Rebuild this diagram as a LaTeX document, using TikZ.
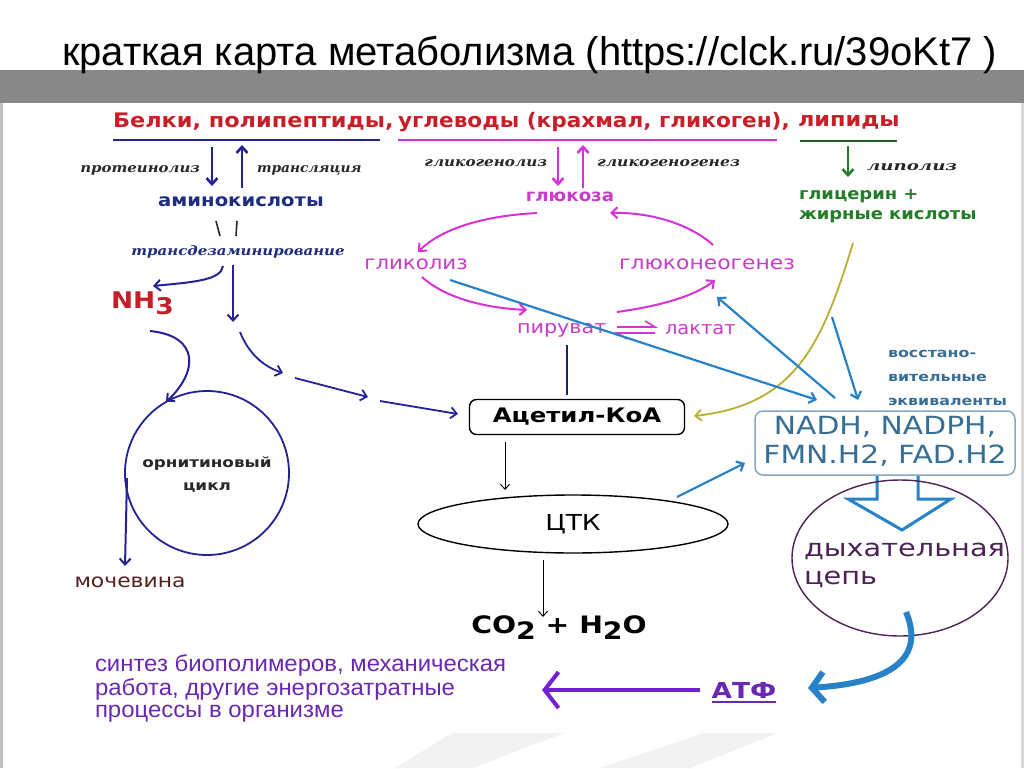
\documentclass[tikz,border=0pt]{standalone}
\usepackage{fontspec}
\usepackage{graphicx}
\setmainfont{DejaVu Sans}
\newfontfamily\titlefont{Liberation Sans}
\newfontfamily\narrowfont{Liberation Sans}
\newfontfamily\itfont{DejaVu Serif}
\usetikzlibrary{arrows.meta,calc,shapes.geometric}
\newcommand\hs[2]{\scalebox{#1}[1]{#2}}
\newcommand\hsl[2]{\scalebox{#1}[1]{\begin{tabular}{@{}l@{}}#2\end{tabular}}}
\newcommand\hsc[2]{\scalebox{#1}[1]{\begin{tabular}{@{}c@{}}#2\end{tabular}}}
\newcommand\fsz[2]{\fontsize{#1}{#2}\selectfont}
\definecolor{hred}{RGB}{200,30,40}
\definecolor{navy}{RGB}{35,35,150}
\definecolor{aminoblue}{RGB}{30,45,125}
\definecolor{mag}{RGB}{215,50,215}
\definecolor{magtxt}{RGB}{200,60,200}
\definecolor{grn}{RGB}{35,125,40}
\definecolor{dgrn}{RGB}{30,100,30}
\definecolor{steel}{RGB}{40,130,200}
\definecolor{nadh}{RGB}{55,110,150}
\definecolor{purp}{RGB}{105,40,175}
\definecolor{purparr}{RGB}{115,30,215}
\definecolor{olive}{RGB}{185,175,50}
\definecolor{resp}{RGB}{75,35,85}
\definecolor{dk}{RGB}{40,40,40}
\definecolor{swoosh}{RGB}{242,242,242}
\definecolor{band}{RGB}{136,136,136}
\begin{document}
\begin{tikzpicture}[x=1pt,y=-1pt,
  lbl/.style={inner sep=0pt,outer sep=0pt},
  hdr/.style={lbl,anchor=west,font=\bfseries\fsz{20}{22},text=hred},
  itl/.style={lbl,font=\itfont\bfseries\itshape\fsz{13}{15},text=dk},
  barb/.style={-{Straight Barb[length=6pt,width=11pt]}},
  navyarr/.style={barb,draw=navy,line width=2.6pt},
  magarr/.style={barb,draw=mag,line width=2.6pt},
  thinmag/.style={barb,draw=mag,line width=2pt},
  dasharr/.style={barb,draw=navy,line width=1.8pt},
  steelarr/.style={barb,draw=steel,line width=2.2pt},
  blkarr/.style={-{Straight Barb[length=5pt,width=9pt]},draw=black,line width=1pt}
]
\useasboundingbox (0,0) rectangle (1024,768);
% slide frame
\fill[white] (0,0) rectangle (1024,768);
\fill[band] (0,70) rectangle (1024,103);
\fill[gray!50] (0,103) rectangle (3,768);
\fill[gray!30] (1021,103) rectangle (1024,768);
\fill[swoosh] (395,768) -- (452,733) -- (564,733) -- (472,768) -- cycle;
\fill[swoosh] (600,768) -- (704,733) -- (778,733) -- (690,768) -- cycle;
% title
\node[lbl,anchor=base west,font=\titlefont\fsz{40}{44}] (title) at (62,66) {краткая карта метаболизма (https://clck.ru/39oKt7 )};

% header
\node[hdr] (prot) at (113,122) {\hs{1.12}{Белки, полипептиды,}};
\node[hdr] (carb) at (398,122) {\hs{1.08}{углеводы (крахмал, гликоген),}};
\node[hdr] (lip) at (798,122) {\hs{1.12}{липиды}};
\draw[navy,line width=2.5pt] (113,140) -- (380,140);
\draw[mag,line width=2.5pt] (398,140) -- (777,140);
\draw[dgrn,line width=2.5pt] (800,141) -- (897,141);

% proteins branch
\node[lbl,font=\bfseries\fsz{17.5}{20},text=aminoblue] (amino) at (241,202) {\hs{1.12}{аминокислоты}};
\draw[navyarr] (212,147) -- (212,186);
\draw[navyarr] (242,188) -- (242,145);
\node[itl,anchor=east] (proteo) at (200,170) {\hs{1.15}{протеинолиз}};
\node[itl,anchor=west] (transl) at (257,170) {\hs{1.06}{трансляция}};
\draw[dk,line width=1.6pt] (216,221) -- (220,236);
\draw[dk,line width=1.6pt] (237,221) -- (236,236);
\node[itl,text=aminoblue] (trans) at (238,252) {\hs{1.15}{трансдезаминирование}};
\node[lbl,anchor=west,font=\bfseries\fsz{23}{25},text=hred] (nh3) at (111,303) {\hs{1.15}{NH\raisebox{-6pt}{3}}};
\draw[navy,line width=2pt,barb] (223,266) .. controls (221,280) and (195,282) .. (153,286);
\draw[navy,line width=2pt,barb] (233,265) -- (233,322);
\node[circle,draw=navy,line width=1.8pt,minimum size=164pt,inner sep=0pt] (orn) at (207,473) {};
\node[lbl,font=\bfseries\fsz{14}{23},text=dk] (ornt) at (207,474) {\hsc{1.2}{орнитиновый\\цикл}};
\draw[navy,line width=2pt,barb] (150,331) .. controls (200,336) and (198,372) .. (166,402);
\draw[navy,line width=2pt,barb] (127,478) -- (125,566);
\node[lbl,font=\fsz{19}{21},text=dk!80!red] (urea) at (130,582) {\hs{1.15}{мочевина}};
\draw[dasharr] (240,332) .. controls (248,352) and (262,366) .. (283,373);
\draw[dasharr] (295,378) -- (368,397);
\draw[dasharr] (380,401) -- (458,414);

% carbohydrates branch
\draw[magarr] (558,147) -- (558,186);
\draw[magarr] (583,188) -- (583,145);
\node[itl,anchor=east] (glgl) at (547,163) {\hs{1.17}{гликогенолиз}};
\node[itl,anchor=west] (glgn) at (597,163) {\hs{1.2}{гликогеногенез}};
\node[lbl,font=\bfseries\fsz{17}{19},text=magtxt] (glu) at (570,197) {\hs{1.07}{глюкоза}};
\node[lbl,font=\fsz{19}{21},text=magtxt] (glyc) at (416,264) {\hs{1.12}{гликолиз}};
\node[lbl,font=\fsz{19}{21},text=magtxt] (gng) at (707,264) {\hs{1.15}{глюконеогенез}};
\draw[thinmag] (537,213) .. controls (480,216) and (440,230) .. (418,252);
\draw[thinmag] (713,245) .. controls (690,224) and (650,212) .. (610,213);
\draw[thinmag] (422,277) .. controls (445,298) and (485,308) .. (527,310);
\draw[thinmag] (617,312) .. controls (660,306) and (695,296) .. (715,280);
\node[lbl,anchor=west,font=\fsz{18}{20},text=magtxt] (pyr) at (517,330) {\hs{1.15}{пируват}};
\node[lbl,anchor=west,font=\fsz{18}{20},text=magtxt] (lac) at (665,330) {\hs{1.08}{лактат}};
\draw[mag,line width=1.6pt] (617,327) -- (655,327) -- (645,321);
\draw[mag,line width=1.6pt] (655,333) -- (617,333) -- (627,339);
\draw[aminoblue!80!black,line width=1.6pt] (567,345) -- (567,395);

% central
\node[draw=black,line width=1.4pt,rounded corners=7pt,minimum width=215pt,minimum height=35pt,inner sep=0pt,font=\bfseries\fsz{20}{22}] (acoa) at (577,417) {\hs{1.22}{Ацетил-КоА}};
\node[ellipse,draw=black,line width=1.4pt,minimum width=310pt,minimum height=58pt,inner sep=0pt,font=\fsz{22}{24}] (ctk) at (573,524) {\hs{1.2}{ЦТК}};
\draw[blkarr] (505,442) -- (505,490);
\draw[blkarr] (543,560) -- (543,617);
\node[lbl,font=\bfseries\fsz{24}{26}] (co2) at (559,628) {\hs{1.18}{CO\raisebox{-6pt}{2} + H\raisebox{-6pt}{2}O}};

% lipids
\draw[grn,line width=2.6pt,barb] (848,146) -- (848,177);
\node[itl,anchor=west] (lipol) at (867,167) {\hs{1.4}{липолиз}};
\node[lbl,anchor=north west,font=\bfseries\fsz{16}{20},text=grn] (glyfa) at (799,185) {\hsl{1.12}{глицерин +\\жирные кислоты}};
\draw[olive,line width=1.8pt,barb] (853,243) .. controls (822,345) and (795,405) .. (694,416);

% reducing equivalents
\node[lbl,anchor=west,font=\bfseries\fsz{13}{24},text=nadh] (vosst) at (888,377) {\hsl{1.22}{восстано-\\вительные\\эквиваленты}};
\node[draw=nadh!60,line width=1.5pt,rounded corners=8pt,minimum width=260pt,minimum height=64pt,inner sep=0pt,font=\fsz{25}{29},text=nadh] (nadh) at (885,443) {\hsc{1.19}{NADH, NADPH,\\FMN.H2, FAD.H2}};
\draw[steelarr] (450,280) -- (817,400);
\draw[steelarr] (835,398) -- (717,297);
\draw[steelarr] (832,317) -- (858,400);
\draw[steelarr] (677,497) -- (745,463);
\draw[steel,line width=3pt,line join=miter] (877,476) -- (877,499) -- (848,499) -- (902,530) -- (951,499) -- (918,499) -- (918,476);

% respiratory chain
\node[ellipse,draw=resp,line width=1.4pt,minimum width=216pt,minimum height=156pt,inner sep=0pt] (resp) at (900,558) {};
\node[lbl,anchor=west,font=\fsz{24}{28},text=resp] (respt) at (804,565) {\hsl{1.2}{дыхательная\\цепь}};
\draw[steel,line width=6pt,-{Straight Barb[length=12pt,width=30pt]}] (906,612) .. controls (922,650) and (905,682) .. (808,688);

% ATP
\node[lbl,font=\bfseries\fsz{22}{24},text=purp] (atf) at (744,690) {\hs{1.2}{АТФ}};
\draw[purp,line width=1.5pt] (712,702) -- (776,702);
\draw[purparr,line width=4pt,-{Straight Barb[length=14pt,width=36pt]}] (700,690) -- (542,690);
\node[lbl,anchor=north west,font=\narrowfont\fsz{23}{22.5},text=purp] (synth) at (95,655) {\hsl{1.04}{синтез биополимеров, механическая\\работа, другие энергозатратные\\процессы в организме}};
\end{tikzpicture}
\end{document}
